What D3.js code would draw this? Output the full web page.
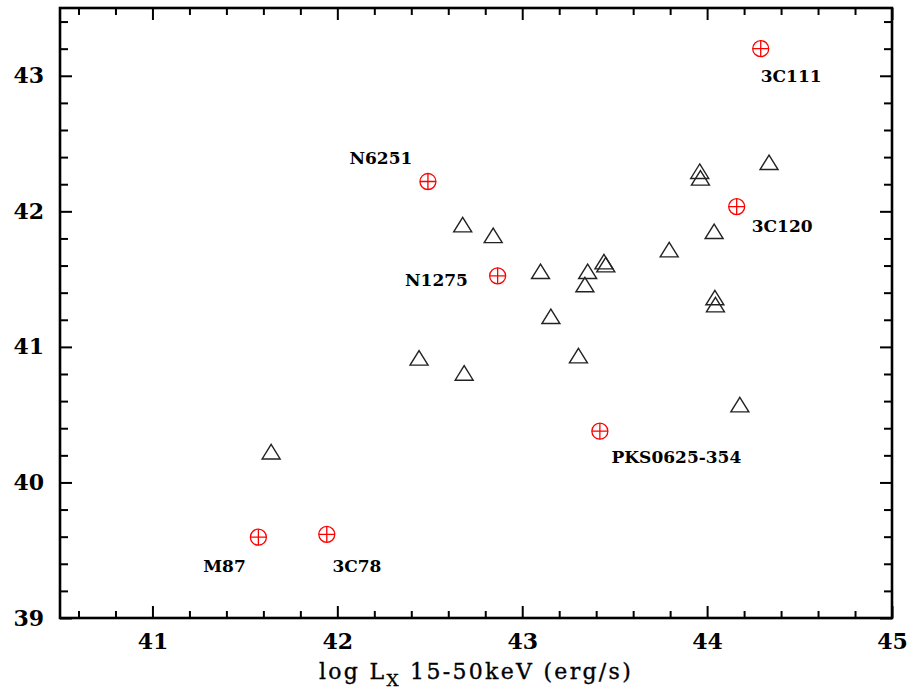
<!DOCTYPE html>
<html>
<head>
<meta charset="utf-8">
<script src="https://cdn.jsdelivr.net/npm/d3@7"></script>
<style>
  html, body { margin: 0; padding: 0; background: #fff; }
  svg { display: block; }
</style>
</head>
<body>
<svg id="chart" width="908" height="694"></svg>
<script>
// ---- data ----
const radioNames = ["3C111", "N6251", "3C120", "N1275", "PKS0625-354", "M87", "3C78"];
const radioLogLx = [44.29, 42.49, 44.16, 42.867, 43.42, 41.573, 41.943];
const radioLogL  = [43.20, 42.22, 42.035, 41.524, 40.378, 39.596, 39.617];

const otherLogLx = [41.642, 42.442, 42.678, 42.686, 42.843, 43.099, 43.155, 43.304, 43.339, 43.354,
                    43.442, 43.452, 43.795, 43.960, 43.964, 44.038, 44.042, 44.045, 44.177, 44.335];
const otherLogL  = [40.225, 40.917, 41.900, 40.806, 41.821, 41.556, 41.224, 40.934, 41.458, 41.556,
                    41.627, 41.605, 41.716, 42.294, 42.245, 41.851, 41.362, 41.310, 40.572, 42.360];

const xTickLabels = [41, 42, 43, 44, 45];
const yTickLabels = [39, 40, 41, 42, 43];
const xLabelParts = ["log L", "X", " 15-50keV (erg/s)"];

(function () {
// ---- layout ----
const svg = d3.select("#chart");
const pLeft = 60, pRight = 892, pTop = 8, pBottom = 618;
const x = d3.scaleLinear().domain([40.5, 45]).range([pLeft, pRight]);
const y = d3.scaleLinear().domain([39, 43.5]).range([pBottom, pTop]);

const xMinor = d3.range(40.6, 45.0, 0.2).map(v => Math.round(v * 10) / 10).filter(v => Math.abs(v - Math.round(v)) > 1e-6);
const yMinor = d3.range(39.2, 43.5, 0.2).map(v => Math.round(v * 10) / 10).filter(v => Math.abs(v - Math.round(v)) > 1e-6);

const tickFont = "'DejaVu Serif', serif";

function styleAxis(g) {
  g.select(".domain").remove();
  g.selectAll(".tick line").attr("stroke", "#000").attr("stroke-width", 2);
  g.selectAll(".tick text").attr("fill", "#000").style("font-family", tickFont)
    .style("font-size", "22px").style("font-weight", "bold");
}

// bottom
svg.append("g").attr("transform", `translate(0,${pBottom})`)
  .call(d3.axisBottom(x).tickValues(xTickLabels).tickSize(-12).tickPadding(15).tickFormat(d3.format("d")))
  .call(styleAxis);
svg.append("g").attr("transform", `translate(0,${pBottom})`)
  .call(d3.axisBottom(x).tickValues(xMinor).tickSize(-7).tickFormat(""))
  .call(styleAxis);
// top
svg.append("g").attr("transform", `translate(0,${pTop})`)
  .call(d3.axisTop(x).tickValues(xTickLabels).tickSize(-12).tickFormat(""))
  .call(styleAxis);
svg.append("g").attr("transform", `translate(0,${pTop})`)
  .call(d3.axisTop(x).tickValues(xMinor).tickSize(-7).tickFormat(""))
  .call(styleAxis);
// left
svg.append("g").attr("transform", `translate(${pLeft},0)`)
  .call(d3.axisLeft(y).tickValues(yTickLabels).tickSize(-12).tickPadding(16).tickFormat(d3.format("d")))
  .call(styleAxis);
svg.append("g").attr("transform", `translate(${pLeft},0)`)
  .call(d3.axisLeft(y).tickValues(yMinor).tickSize(-8).tickFormat(""))
  .call(styleAxis);
// right
svg.append("g").attr("transform", `translate(${pRight},0)`)
  .call(d3.axisRight(y).tickValues(yTickLabels).tickSize(-12).tickFormat(""))
  .call(styleAxis);
svg.append("g").attr("transform", `translate(${pRight},0)`)
  .call(d3.axisRight(y).tickValues(yMinor).tickSize(-8).tickFormat(""))
  .call(styleAxis);

// frame
svg.append("rect").attr("x", pLeft).attr("y", pTop).attr("width", pRight - pLeft).attr("height", pBottom - pTop)
  .attr("fill", "none").attr("stroke", "#000").attr("stroke-width", 2.6);

// triangles
const tri = "M0,-7.5 L9,7 L-9,7 Z";
svg.append("g").selectAll("path")
  .data(otherLogLx.map((v, i) => [v, otherLogL[i]]))
  .join("path")
  .attr("d", tri)
  .attr("transform", d => `translate(${x(d[0])},${y(d[1])})`)
  .attr("fill", "none").attr("stroke", "#222").attr("stroke-width", 1.4);

// radio galaxies (circle-plus)
const radio = radioNames.map((n, i) => ({ name: n, lx: radioLogLx[i], l: radioLogL[i] }));
const rg = svg.append("g").selectAll("g").data(radio).join("g")
  .attr("transform", d => `translate(${x(d.lx)},${y(d.l)})`);
rg.append("circle").attr("r", 8).attr("fill", "none").attr("stroke", "#f00").attr("stroke-width", 1.3);
rg.append("path").attr("d", "M-8,0 H8 M0,-8 V8").attr("stroke", "#f00").attr("stroke-width", 1.3);

// label placement (pixel offsets from marker)
const labelPlace = {
  "3C111": { dx: 0, dy: 33.5, anchor: "start" },
  "N6251": { dx: -15.6, dy: -18, anchor: "end" },
  "3C120": { dx: 15, dy: 25, anchor: "start" },
  "N1275": { dx: -29.7, dy: 10.5, anchor: "end" },
  "PKS0625-354": { dx: 11.7, dy: 32, anchor: "start" },
  "M87": { dx: -12.6, dy: 34.4, anchor: "end" },
  "3C78": { dx: 5.6, dy: 37.4, anchor: "start" }
};
svg.append("g").selectAll("text").data(radio).join("text")
  .attr("x", d => x(d.lx) + labelPlace[d.name].dx)
  .attr("y", d => y(d.l) + labelPlace[d.name].dy)
  .attr("text-anchor", d => labelPlace[d.name].anchor)
  .style("font-family", tickFont).style("font-size", "17px").style("font-weight", "bold")
  .attr("fill", "#000")
  .text(d => d.name);

// x-axis title
const xt = svg.append("text")
  .attr("x", (pLeft + pRight) / 2).attr("y", 679)
  .attr("text-anchor", "middle")
  .style("font-family", tickFont).style("font-size", "22px").style("letter-spacing", "2.3px")
  .attr("fill", "#000").attr("stroke", "#000").attr("stroke-width", 0.35);
xt.append("tspan").text(xLabelParts[0]);
xt.append("tspan").attr("dy", 7).style("font-size", "17px").text(xLabelParts[1]);
xt.append("tspan").attr("dy", -7).text(xLabelParts[2]);
})();
</script>
</body>
</html>
